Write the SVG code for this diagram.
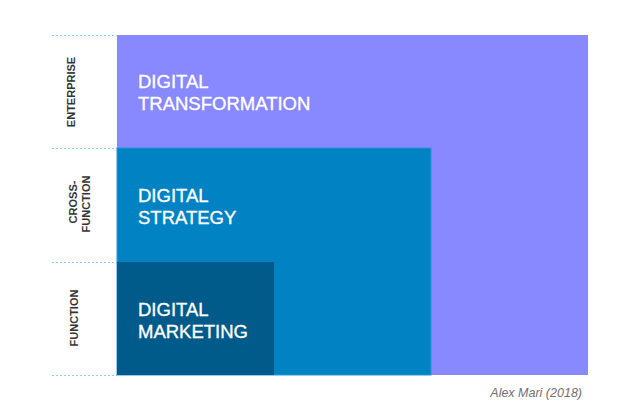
<svg xmlns="http://www.w3.org/2000/svg" width="640" height="418" viewBox="0 0 640 418">
<style>
.lvl{font-family:"Liberation Sans",Arial,sans-serif;font-weight:bold;font-size:11px;fill:#333333;text-anchor:middle}
.big{font-family:"Liberation Sans",Arial,sans-serif;font-size:18.5px;fill:#ffffff;stroke:#ffffff;stroke-width:0.35}
.guide{stroke:#8ccdf5;stroke-width:1;stroke-dasharray:2 2;fill:none}
.cap{font-family:"Liberation Sans",Arial,sans-serif;font-style:italic;font-size:12.5px;fill:#707070;text-anchor:end}
</style>
<rect width="640" height="418" fill="#ffffff"/>
<g id="guides">
<line class="guide" x1="52" y1="35.5" x2="117" y2="35.5"/>
<line class="guide" x1="52" y1="148.5" x2="117" y2="148.5"/>
<line class="guide" x1="52" y1="262.5" x2="117" y2="262.5"/>
<line class="guide" x1="52" y1="375.5" x2="117" y2="375.5"/>
</g>
<g id="enterprise">
<rect x="117" y="35" width="471" height="340" fill="#8888ff"/>
<text class="big" x="138" y="88">DIGITAL</text>
<text class="big" x="138" y="110">TRANSFORMATION</text>
</g>
<g id="crossfunction">
<rect x="117" y="148" width="314" height="227" fill="#0082c3" stroke="#2a96d6" stroke-width="1"/>
<text class="big" x="138" y="202">DIGITAL</text>
<text class="big" x="138" y="224">STRATEGY</text>
</g>
<g id="function">
<rect x="117" y="262" width="157" height="113" fill="#005a8a"/>
<text class="big" x="138" y="316">DIGITAL</text>
<text class="big" x="138" y="338">MARKETING</text>
</g>
<g id="labels">
<text class="lvl" transform="translate(74.5,92) rotate(-90)">ENTERPRISE</text>
<text class="lvl" transform="translate(77,202) rotate(-90)">CROSS-</text>
<text class="lvl" transform="translate(90,204) rotate(-90)">FUNCTION</text>
<text class="lvl" transform="translate(77.5,318) rotate(-90)">FUNCTION</text>
</g>
<text class="cap" x="582" y="397">Alex Mari (2018)</text>
</svg>
